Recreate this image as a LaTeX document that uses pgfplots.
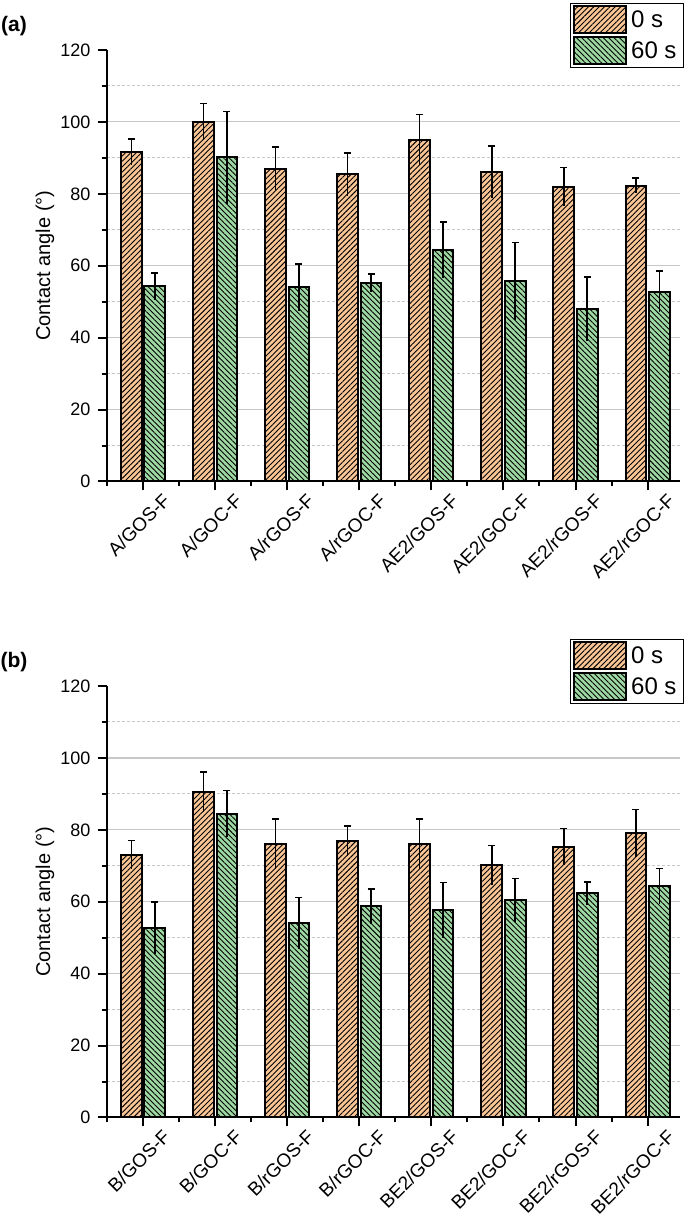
\documentclass[border=0pt]{standalone}
\usepackage{fontspec}
\setmainfont{Liberation Sans}
\usepackage{pgfplots}
\usepackage{pgfplotstable}
\pgfplotsset{compat=1.18}
\usetikzlibrary{patterns.meta}

\definecolor{peach}{RGB}{250,198,150}
\definecolor{mint}{RGB}{158,216,162}
\definecolor{gridgray}{RGB}{200,200,200}

% x  0 s (mean, sd)  60 s (mean, sd)
\pgfplotstableread{
x o oe g ge
0 91.6 3.6 54.3 3.7
1 100.1 5.0 90.1 12.8
2 87.0 6.0 54.0 6.5
3 85.4 6.0 55.2 2.5
4 95.0 7.0 64.4 7.7
5 86.1 7.2 55.7 10.8
6 81.9 5.4 48.0 8.9
7 82.3 2.1 52.8 5.8
}\tablea

\pgfplotstableread{
x o oe g ge
0 73.0 4.0 52.7 7.2
1 90.5 5.6 84.5 6.5
2 76.0 7.0 54.0 7.2
3 76.9 4.2 58.7 4.9
4 76.1 6.9 57.6 7.8
5 70.1 5.5 60.5 6.0
6 75.3 5.1 62.3 3.2
7 79.0 6.6 64.3 4.9
}\tableb

\pgfplotsset{
  panel/.style={
    scale only axis, width=286.75pt, height=215.75pt,
    anchor=south west,
    xmin=-0.508, xmax=7.45, ymin=0, ymax=120,
    axis lines=left, axis line style={-, line width=1pt, black},
    ybar, bar width=10.35pt,
    ytick={0,20,...,100}, extra y ticks={120}, extra y tick style={grid=none},
    minor ytick={10,30,...,110},
    xtick={0,...,7}, minor xtick={-0.5,0.5,...,6.5},
    ymajorgrids, yminorgrids,
    major grid style={gridgray, line width=0.6pt},
    minor grid style={gridgray, line width=0.5pt, dash pattern=on 1.5pt off 1pt},
    tick align=outside, major tick length=4.5pt, minor tick length=2.5pt,
    tick style={black, line width=1pt},
    /pgf/number format/assume math mode=true,
    yticklabel style={font=\fontsize{9}{10}\selectfont},
    xticklabel style={font=\fontsize{9.5}{10}\selectfont, rotate=45, anchor=north east,
      inner sep=1pt, xshift=7pt, yshift=-6pt},
    every axis y label/.style={at={(axis description cs:0,0.5)}, xshift=-30.75pt, rotate=90, anchor=center, font=\fontsize{10}{12}\selectfont},
    ylabel={Contact angle (°)},
    legend style={at={(1,1)}, anchor=north east, xshift=2pt, yshift=23.65pt,
      draw=black, line width=0.5pt, fill=white, inner xsep=1.5pt, inner ysep=1pt,
      font=\fontsize{12}{14}\selectfont, row sep=1pt, legend cell align=left},
  },
  obar/.style={fill=peach, draw=black, line width=1pt, bar shift=-5.85pt,
    postaction={pattern={Lines[angle=45, distance=1.9pt, line width=0.45pt]}, pattern color=black},
    legend image code/.code={\draw[##1] (0pt,-6.5pt) rectangle (26pt,7pt);}},
  gbar/.style={fill=mint, draw=black, line width=1pt, bar shift=5.85pt,
    postaction={pattern={Lines[angle=-45, distance=1.9pt, line width=0.45pt]}, pattern color=black},
    legend image code/.code={\draw[##1] (0pt,-6.5pt) rectangle (26pt,7pt);}},
  errup/.style={error bars/y dir=plus, error bars/y explicit,
    error bars/error mark options={black, line width=0.75pt, mark size=1.75pt, rotate=90},
    error bars/error bar style={black, line width=0.75pt}},
  errdown/.style={forget plot, draw=none, fill=none,
    error bars/y dir=minus, error bars/y explicit,
    error bars/error mark=none, error bars/error bar style={draw=black, line width=0.75pt}},
}

\begin{document}
\begin{tikzpicture}
\path[use as bounding box] (0,0) rectangle (342.5pt,612pt);

\begin{axis}[panel, at={(53.25pt,371.25pt)},
  xticklabels={A/GOS-F,A/GOC-F,A/rGOS-F,A/rGOC-F,AE2/GOS-F,AE2/GOC-F,AE2/rGOS-F,AE2/rGOC-F}]
\addplot[obar, errup] table[x=x, y=o, y error=oe] {\tablea};
\addplot[gbar, errup] table[x=x, y=g, y error=ge] {\tablea};
\addplot[errdown, bar shift=-5.85pt] table[x=x, y=o, y error=oe] {\tablea};
\addplot[errdown, bar shift=5.85pt] table[x=x, y=g, y error=ge] {\tablea};
\legend{0 s, 60 s}
\end{axis}

\begin{axis}[panel, at={(53.25pt,53.25pt)},
  xticklabels={B/GOS-F,B/GOC-F,B/rGOS-F,B/rGOC-F,BE2/GOS-F,BE2/GOC-F,BE2/rGOS-F,BE2/rGOC-F}]
\addplot[obar, errup] table[x=x, y=o, y error=oe] {\tableb};
\addplot[gbar, errup] table[x=x, y=g, y error=ge] {\tableb};
\addplot[errdown, bar shift=-5.85pt] table[x=x, y=o, y error=oe] {\tableb};
\addplot[errdown, bar shift=5.85pt] table[x=x, y=g, y error=ge] {\tableb};
\legend{0 s, 60 s}
\end{axis}

\node[font=\bfseries\fontsize{10.5}{12}\selectfont] at (7pt,599pt) {(a)};
\node[font=\bfseries\fontsize{10.5}{12}\selectfont] at (7pt,281pt) {(b)};
\end{tikzpicture}
\end{document}
